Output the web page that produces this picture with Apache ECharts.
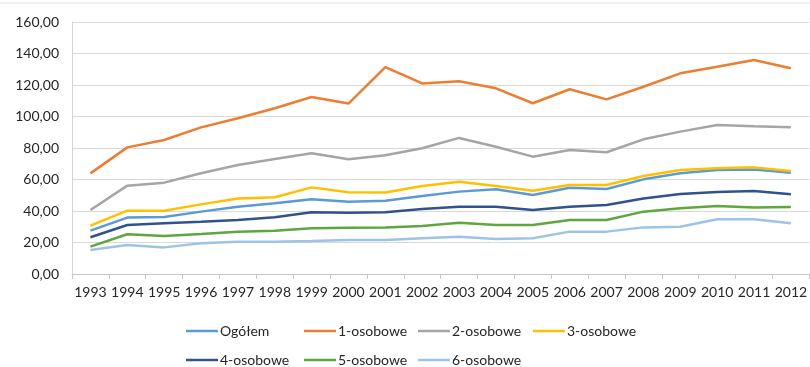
<!DOCTYPE html>
<html>
<head>
<meta charset="utf-8">
<script src="https://cdn.jsdelivr.net/npm/echarts@6/dist/echarts.min.js"></script>
<style>
  html, body { margin: 0; padding: 0; background: #fff; }
  #chart { width: 810px; height: 367px; }
</style>
</head>
<body>
<div id="chart"></div>
<script>
const years = ['1993', '1994', '1995', '1996', '1997', '1998', '1999', '2000', '2001', '2002',
  '2003', '2004', '2005', '2006', '2007', '2008', '2009', '2010', '2011', '2012']

const ogolem = [27.5, 35.8, 36.2, 39.6, 42.7, 44.9, 47.4, 45.9, 46.5, 49.5,
  52.3, 53.8, 50.2, 54.8, 54.0, 60.1, 63.9, 66.0, 66.4, 64.3]
const os1 = [63.9, 80.4, 85.1, 93.1, 98.9, 105.2, 112.4, 108.2, 131.4, 121.0,
  122.4, 117.9, 108.4, 117.3, 110.9, 118.9, 127.4, 131.6, 135.9, 130.6]
const os2 = [40.6, 56.1, 58.0, 64.0, 69.2, 73.0, 76.6, 72.8, 75.4, 79.8,
  86.4, 80.8, 74.5, 78.7, 77.3, 85.5, 90.4, 94.6, 93.8, 93.1]
const os3 = [30.7, 40.2, 40.2, 44.2, 48.0, 48.7, 55.0, 51.9, 51.7, 55.9,
  58.6, 55.9, 52.9, 56.5, 56.5, 62.2, 66.0, 67.1, 67.7, 65.4]
const os4 = [23.3, 31.1, 32.2, 33.2, 34.3, 36.0, 39.2, 38.9, 39.2, 41.3,
  42.7, 42.7, 40.6, 42.7, 43.8, 48.0, 50.8, 52.1, 52.7, 50.6]
const os5 = [17.4, 25.2, 24.1, 25.4, 26.9, 27.5, 29.0, 29.4, 29.6, 30.5,
  32.6, 31.1, 31.1, 34.3, 34.3, 39.6, 41.7, 43.2, 42.3, 42.5]
const os6 = [15.2, 18.4, 16.9, 19.5, 20.5, 20.5, 20.9, 21.6, 21.6, 22.7,
  23.7, 22.2, 22.7, 26.9, 26.9, 29.6, 30.0, 34.7, 34.7, 32.2]

const seriesNames = ['Ogółem', '1-osobowe', '2-osobowe', '3-osobowe', '4-osobowe', '5-osobowe', '6-osobowe']
const seriesData = [ogolem, os1, os2, os3, os4, os5, os6]
const colors = ['#5b9bd5', '#ed7d31', '#a5a5a5', '#ffc000', '#30528f', '#5fa63f', '#9dc3e6']

const font = 'Lato, "Open Sans", sans-serif'
const textColor = '#262626'

// legend laid out in columns like the excel original
const legendPos = [
  [186, 333], [304, 333], [418, 333], [533, 333],
  [186, 362], [304, 362], [418, 362]
]

const chart = echarts.init(document.getElementById('chart'))

chart.setOption({
  animation: false,
  color: colors,
  grid: { left: 72, right: -4, top: 22, bottom: 93 },
  graphic: [{
    type: 'line',
    shape: { x1: 0, y1: 3, x2: 810, y2: 3 },
    style: { stroke: '#e3e3e3', lineWidth: 1 }
  }],
  legend: seriesNames.map((name, i) => ({
    data: [name],
    left: legendPos[i][0],
    top: legendPos[i][1] - 9,
    icon: 'rect',
    itemWidth: 32,
    itemHeight: 2.5,
    padding: 0,
    textStyle: { fontFamily: font, fontSize: 14, color: textColor, padding: [0, 0, 0, -3] }
  })),
  xAxis: {
    type: 'category',
    data: years,
    boundaryGap: true,
    axisLine: { lineStyle: { color: '#c8c8c8', width: 1 } },
    axisTick: { show: true, length: 5, lineStyle: { color: '#c8c8c8' } },
    axisLabel: { fontFamily: font, fontSize: 14, color: textColor, margin: 11, interval: 0 }
  },
  yAxis: {
    type: 'value',
    min: 0,
    max: 160,
    interval: 20,
    axisLine: { show: true, lineStyle: { color: '#d4d4d4' } },
    axisTick: { show: false },
    splitLine: { lineStyle: { color: '#d9d9d9', width: 1 } },
    axisLabel: {
      fontFamily: font, fontSize: 14, color: textColor, margin: 13,
      formatter: v => v.toFixed(2).replace('.', ',')
    }
  },
  series: seriesNames.map((name, i) => ({
    name,
    type: 'line',
    data: seriesData[i],
    symbol: 'none',
    lineStyle: { width: 2.5, color: colors[i] },
    itemStyle: { color: colors[i] }
  }))
})
</script>
</body>
</html>
